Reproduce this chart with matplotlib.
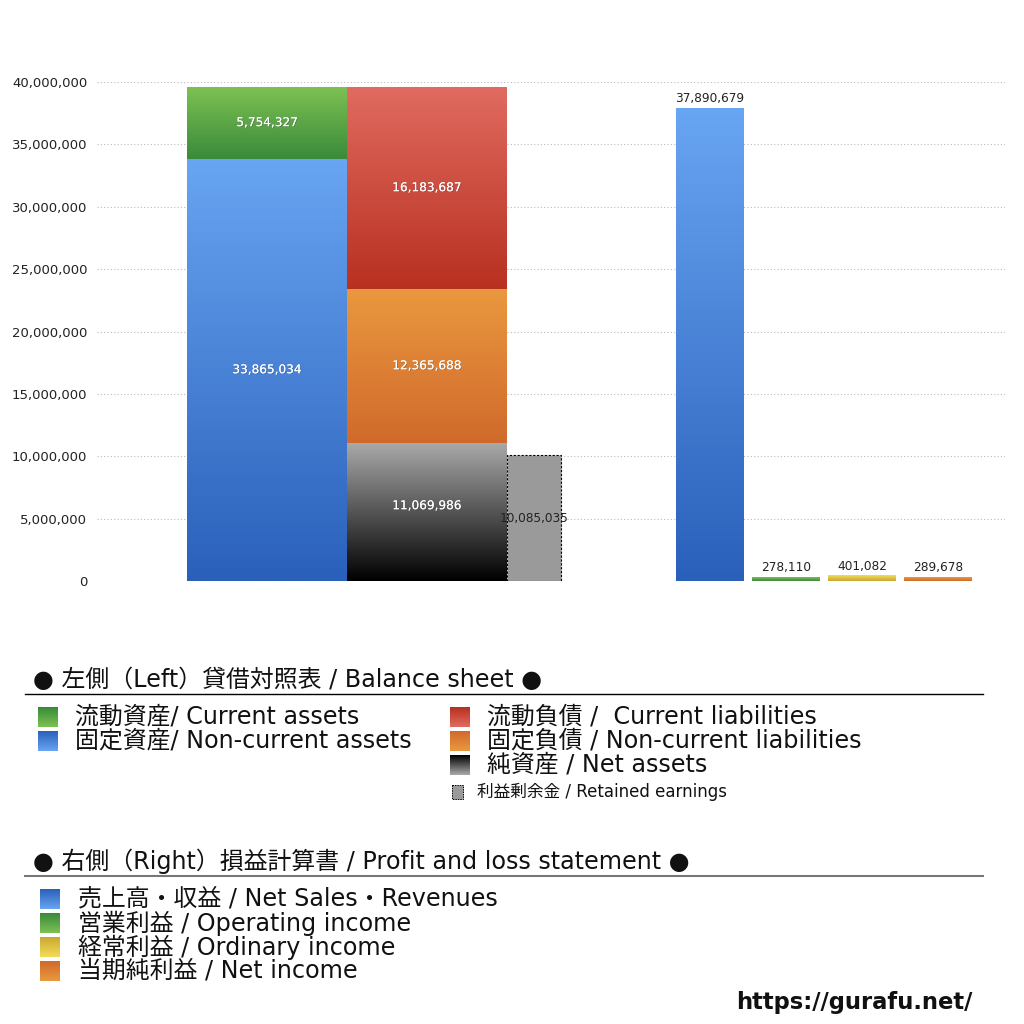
import numpy as np
import matplotlib
matplotlib.use("Agg")
import matplotlib.pyplot as plt
import matplotlib.patheffects as pe
from matplotlib.colors import LinearSegmentedColormap
from matplotlib.ticker import FuncFormatter

# wide latin glyphs from DejaVu, CJK from Noto
plt.rcParams['font.family'] = ['DejaVu Sans', 'Noto Sans CJK JP']

# balance sheet (left side)
assets_labels = ["固定資産/ Non-current assets", "流動資産/ Current assets"]
assets_values = [33865034, 5754327]
liab_labels = ["純資産 / Net assets", "固定負債 / Non-current liabilities",
               "流動負債 /  Current liabilities"]
liab_values = [11069986, 12365688, 16183687]
retained_label = "利益剰余金 / Retained earnings"
retained_value = 10085035

# profit and loss (right side)
pl_labels = ["売上高・収益 / Net Sales・Revenues", "営業利益 / Operating income",
             "経常利益 / Ordinary income", "当期純利益 / Net income"]
pl_values = [37890679, 278110, 401082, 289678]

yticks = list(range(0, 40000001, 5000000))

# gradient colours (top, bottom)
BLUE = ("#68a5f2", "#2a60ba")
GREEN = ("#7dc152", "#3a8a3b")
RED = ("#e06b60", "#b83020")
ORANGE = ("#ea983f", "#d06a2c")
BLACK = ("#aaaaaa", "#000000")
YELLOW = ("#f3dc55", "#c9a832")
GREY = "#9a9a9a"

def grad(ax, x0, x1, y0, y1, cols, z=2):
    cmap = LinearSegmentedColormap.from_list("g", [cols[1], cols[0]])
    img = np.linspace(0, 1, 256).reshape(-1, 1)
    ax.imshow(img, extent=(x0, x1, y0, y1), origin="lower", cmap=cmap,
              aspect="auto", zorder=z, interpolation="bilinear")

fig = plt.figure(figsize=(10.24, 10.24), dpi=100)
ax = fig.add_axes([97/1024, 1-581/1024, 908/1024, 499/1024])
ax.set_xlim(97, 1005)
ax.set_ylim(0, 40000000)

shadow = [pe.withSimplePatchShadow(offset=(0.5, -0.5), shadow_rgbFace="#444444", alpha=0.45), pe.Normal()]

# assets column
bottom = 0
for v, cols in zip(assets_values, [BLUE, GREEN]):
    grad(ax, 187, 347, bottom, bottom + v, cols)
    ax.text(267, bottom + v/2, f"{v:,}", ha="center", va="center", color="white",
            fontsize=8.7, path_effects=shadow, zorder=5)
    bottom += v

# liabilities + net assets column
bottom = 0
for v, cols in zip(liab_values, [BLACK, ORANGE, RED]):
    grad(ax, 347, 507, bottom, bottom + v, cols)
    ax.text(427, bottom + v/2 + (500000 if cols is BLACK else 0), f"{v:,}", ha="center",
            va="center", color="white", fontsize=8.7, path_effects=shadow, zorder=5)
    bottom += v

# retained earnings
ax.bar(534, retained_value, width=54, color=GREY, edgecolor="black", linestyle=(0, (2, 1.5)),
       linewidth=0.8, zorder=2)
ax.text(534, 5000000, f"{retained_value:,}", ha="center", va="center", color="#222222",
        fontsize=8.7, zorder=5)

# P/L bars
pl_x = [710, 786, 862, 938]
pl_cols = [BLUE, GREEN, YELLOW, ORANGE]
for x, v, cols in zip(pl_x, pl_values, pl_cols):
    grad(ax, x - 34, x + 34, 0, v, cols)
    ax.text(x, v + 250000, f"{v:,}", ha="center", va="bottom", color="#222222",
            fontsize=8.7, zorder=5)

ax.set_yticks(yticks)
ax.yaxis.set_major_formatter(FuncFormatter(lambda v, p: f"{int(v):,}"))
ax.tick_params(axis="y", length=0, labelsize=9.5, pad=7, colors="#222222")
ax.set_xticks([])
ax.grid(axis="y", color="#bbbbbb", linestyle=(0, (1, 2)), linewidth=0.8, zorder=0)
for s in ax.spines.values():
    s.set_visible(False)

# legend area drawn in pixel coordinates
lg = fig.add_axes([0, 0, 1, 1], facecolor="none")
lg.set_xlim(0, 1024)
lg.set_ylim(1024, 0)
lg.axis("off")

def swatch(x, y, cols, w=20, h=20):
    cmap = LinearSegmentedColormap.from_list("s", [cols[1], cols[0]])
    img = np.linspace(0, 1, 64).reshape(-1, 1)
    lg.imshow(img, extent=(x, x + w, y + h/2, y - h/2), origin="upper", cmap=cmap,
              aspect="auto", interpolation="bilinear")

FS = 17.2
lg.text(33, 680, "● 左側（Left）貸借対照表 / Balance sheet ●", fontsize=FS,
        va="center", ha="left", color="#111111")
lg.plot([25, 983], [694, 694], color="black", linewidth=1)

left_items = [(assets_labels[1], GREEN), (assets_labels[0], BLUE)]
for i, (t, c) in enumerate(left_items):
    y = 717 + i*24
    swatch(38, y, c)
    lg.text(75, y, t, fontsize=FS, va="center", color="#111111")

right_items = [(liab_labels[2], RED), (liab_labels[1], ORANGE), (liab_labels[0], BLACK)]
for i, (t, c) in enumerate(right_items):
    y = 717 + i*24
    swatch(450, y, c)
    lg.text(487, y, t, fontsize=FS, va="center", color="#111111")

lg.add_patch(plt.Rectangle((452, 785), 11, 14, facecolor=GREY, edgecolor="black",
                           linestyle=(0, (1.5, 1)), linewidth=0.7))
lg.text(477, 792, retained_label, fontsize=12, va="center", color="#111111")

lg.text(33, 861, "● 右側（Right）損益計算書 / Profit and loss statement ●", fontsize=FS,
        va="center", ha="left", color="#111111")
lg.plot([25, 983], [876, 876], color="#777777", linewidth=1.5)

for i, (t, c) in enumerate(zip(pl_labels, pl_cols)):
    y = 899 + i*24
    swatch(40, y, c)
    lg.text(78, y, t, fontsize=FS, va="center", color="#111111")

lg.text(972, 1003, "https://gurafu.net/", fontsize=16.3, fontweight="bold", ha="right",
        va="center", color="#111111")

fig.savefig("out.png", dpi=100, facecolor="white")
